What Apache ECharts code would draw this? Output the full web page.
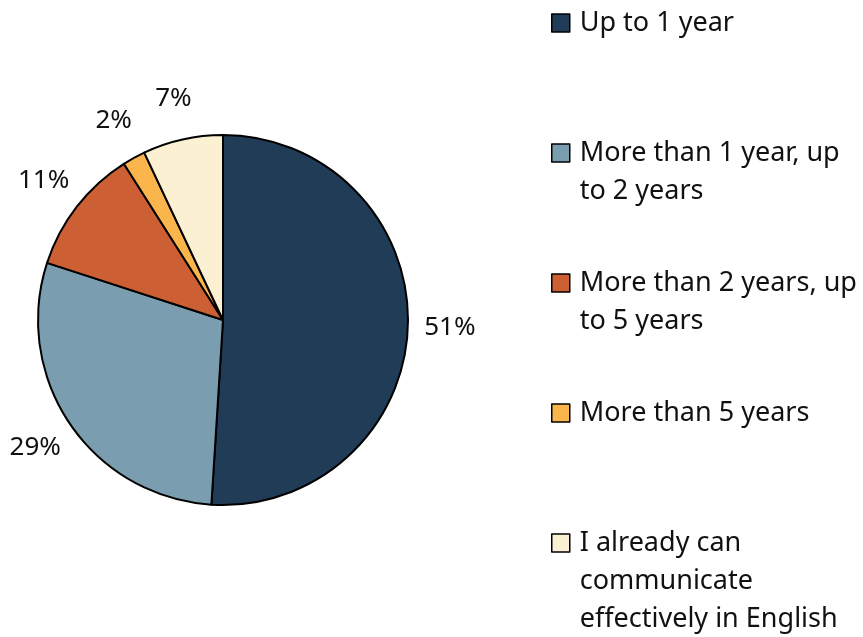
<!DOCTYPE html>
<html>
<head>
<meta charset="utf-8">
<script src="https://cdn.jsdelivr.net/npm/echarts@6/dist/echarts.min.js"></script>
<style>
  html, body { margin: 0; padding: 0; background: #fff; }
  #chart { width: 863px; height: 637px; }
</style>
</head>
<body>
<div id="chart"></div>
<script>
// Time needed to reach effective English communication
const categories = [
  'Up to 1 year',
  'More than 1 year, up to 2 years',
  'More than 2 years, up to 5 years',
  'More than 5 years',
  'I already can communicate effectively in English'
];
const legendLabels = [
  'Up to 1 year',
  'More than 1 year, up\nto 2 years',
  'More than 2 years, up\nto 5 years',
  'More than 5 years',
  'I already can\ncommunicate\neffectively in English'
];
const shares = [51, 29, 11, 2, 7];
const colors = ['#213C56', '#7B9DB0', '#CD5F35', '#FBB54D', '#FBF0D2'];

const FONT = 'Noto Sans';
const LEGEND_LINE = 38;
const LEGEND_FIRST = 23;   // centre of the first legend row
const LEGEND_STEP = 130;   // distance between legend entries
const SWATCH = 18;

const chart = echarts.init(document.getElementById('chart'), null, { renderer: 'canvas' });

// One legend block per entry. The swatch must sit beside the first text row,
// so the icon is a tall path: the square at its top and an empty move-to at
// its bottom that stretches the icon box to the height of the wrapped text.
const legends = categories.map((name, i) => {
  const rows = legendLabels[i].split('\n').length;
  const centre = LEGEND_FIRST + LEGEND_STEP * i;
  const h = SWATCH + (rows - 1) * LEGEND_LINE;
  const icon = rows > 1
    ? 'path://M0,0L' + SWATCH + ',0L' + SWATCH + ',' + SWATCH + 'L0,' + SWATCH + 'Z M0,' + h
    : 'rect';
  return {
    data: [{ name, icon }],
    orient: 'vertical',
    left: 551,
    top: centre - LEGEND_LINE / 2,
    padding: 0,
    itemWidth: SWATCH,
    itemHeight: h,
    selectedMode: false,
    itemStyle: { borderColor: '#000', borderWidth: 1.5 },
    formatter: () => legendLabels[i],
    textStyle: {
      fontFamily: FONT,
      fontSize: 27,
      color: '#111',
      lineHeight: LEGEND_LINE,
      padding: [0, 0, 0, 5]
    }
  };
});

const pieData = categories.map((name, i) => ({ name, value: shares[i] }));

chart.setOption({
  animation: false,
  color: colors,
  legend: legends,
  series: [
    {
      type: 'pie',
      center: [223, 320],
      radius: 185,
      startAngle: 90,
      clockwise: true,
      data: pieData,
      itemStyle: { borderColor: '#000', borderWidth: 2 },
      label: { show: false },
      labelLine: { show: false },
      emphasis: { disabled: true },
      silent: true
    },
    {
      // invisible ring carrying the percentage labels, centred just outside the pie
      type: 'pie',
      center: [223, 320],
      radius: [218, 230],
      startAngle: 90,
      clockwise: true,
      data: pieData,
      itemStyle: { color: 'rgba(0,0,0,0)', borderWidth: 0 },
      label: {
        show: true,
        position: 'inside',
        rotate: 0,
        formatter: p => p.value + '%',
        fontFamily: FONT,
        fontSize: 26,
        color: '#111'
      },
      labelLine: { show: false },
      emphasis: { disabled: true },
      silent: true
    }
  ]
});
</script>
</body>
</html>
